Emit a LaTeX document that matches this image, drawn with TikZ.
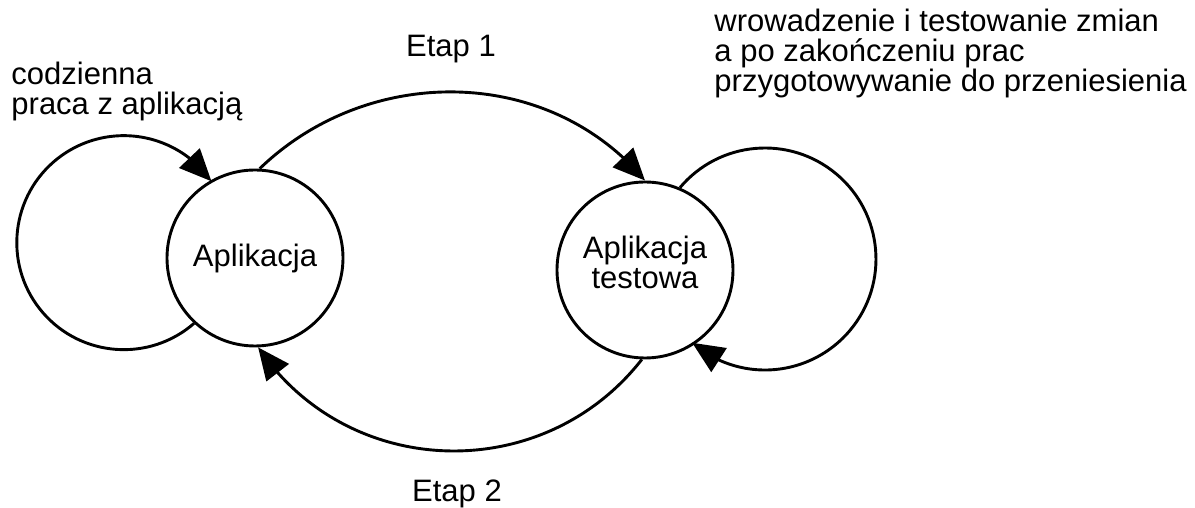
\documentclass[tikz,border=0pt]{standalone}
\usepackage{fontspec}
\setmainfont{Liberation Sans}
\usetikzlibrary{arrows.meta,bending}

\begin{document}
\begin{tikzpicture}[x=1pt, y=1pt, line width=2.9pt,
    every node/.style={font=\fontsize{31}{30}\selectfont},
    appnode/.style={draw, circle, minimum size=176pt, inner sep=0pt, align=center},
    flow/.style={-{Triangle[length=32pt, width=28pt]}}]
    \useasboundingbox (0,0) rectangle (1195,508);
    \node [appnode] (app) at (255,250) {Aplikacja};
    \node [appnode, text depth=16pt] (test) at (645,238) {Aplikacja\\testowa};
    \draw [flow] (app.87) to[out=44, in=130] (test.90);
    \draw [flow] (test.268) to[out=-128, in=-56, looseness=1.07] (app.272);
    \draw [flow] (app.227) arc[start angle=-49, end angle=-325, radius=107];
    \draw [flow] (test.67) arc[start angle=140, end angle=-131, radius=111];
    \node [anchor=north west, align=left, inner sep=0pt] (daily) at (10,447) {codzienna\\praca z aplikacją};
    \node [anchor=north west, align=left, inner sep=0pt] (changes) at (713,500) {wrowadzenie i testowanie zmian\\a po zakończeniu prac\\przygotowywanie do przeniesienia};
    \node [anchor=base, inner sep=0pt] (stage1) at (451,451) {Etap 1};
    \node [anchor=base, inner sep=0pt] (stage2) at (457,6) {Etap 2};
\end{tikzpicture}
\end{document}
